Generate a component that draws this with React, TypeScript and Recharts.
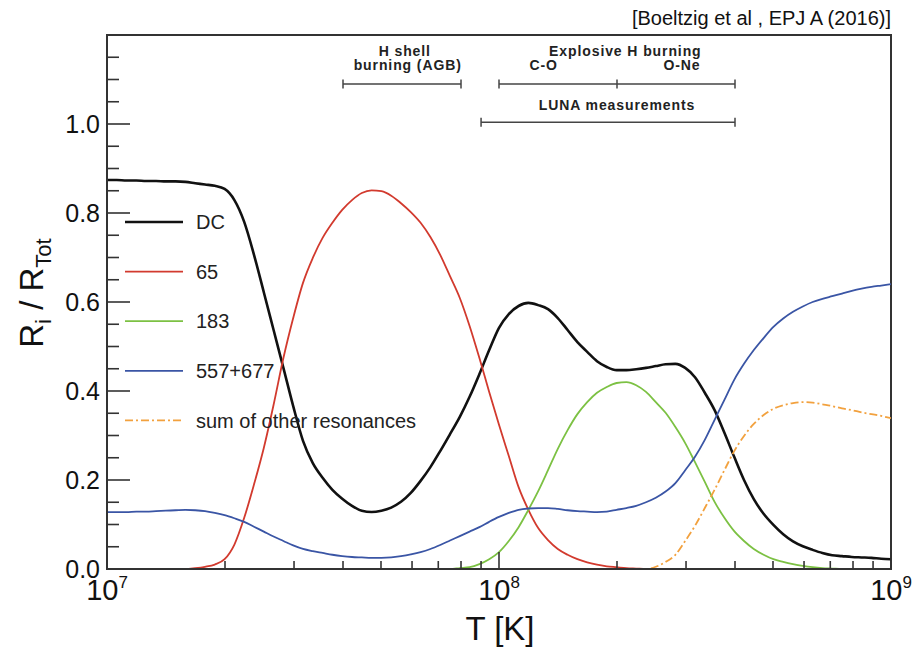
import React from 'react';
import { LineChart, Line, XAxis, YAxis, ReferenceLine, ReferenceArea, Legend } from 'recharts';

// log10 of temperature T [K], step 0.025
const logT = [
  7.0, 7.025, 7.05, 7.075, 7.1, 7.125, 7.15, 7.175, 7.2, 7.225,
  7.25, 7.275, 7.3, 7.325, 7.35, 7.375, 7.4, 7.425, 7.45, 7.475,
  7.5, 7.525, 7.55, 7.575, 7.6, 7.625, 7.65, 7.675, 7.7, 7.725,
  7.75, 7.775, 7.8, 7.825, 7.85, 7.875, 7.9, 7.925, 7.95, 7.975,
  8.0, 8.025, 8.05, 8.075, 8.1, 8.125, 8.15, 8.175, 8.2, 8.225,
  8.25, 8.275, 8.3, 8.325, 8.35, 8.375, 8.4, 8.425, 8.45, 8.475,
  8.5, 8.525, 8.55, 8.575, 8.6, 8.625, 8.65, 8.675, 8.7, 8.725,
  8.75, 8.775, 8.8, 8.825, 8.85, 8.875, 8.9, 8.925, 8.95, 8.975, 9.0,
];

const dcRatio = [
  0.874, 0.874, 0.873, 0.873, 0.872, 0.872, 0.871, 0.871, 0.870, 0.867,
  0.864, 0.861, 0.854, 0.829, 0.780, 0.706, 0.622, 0.537, 0.452, 0.366,
  0.288, 0.238, 0.205, 0.178, 0.158, 0.142, 0.131, 0.128, 0.131, 0.138,
  0.151, 0.171, 0.198, 0.229, 0.265, 0.303, 0.342, 0.387, 0.438, 0.492,
  0.542, 0.573, 0.591, 0.598, 0.593, 0.584, 0.564, 0.537, 0.510, 0.488,
  0.467, 0.454, 0.447, 0.447, 0.449, 0.452, 0.456, 0.460, 0.461, 0.452,
  0.431, 0.396, 0.357, 0.306, 0.252, 0.200, 0.157, 0.124, 0.099, 0.078,
  0.062, 0.051, 0.043, 0.036, 0.031, 0.029, 0.027, 0.026, 0.025, 0.023, 0.022,
];

const r65Ratio = [
  0, 0, 0, 0, 0, 0, 0, 0, 0, 0.002,
  0.005, 0.010, 0.022, 0.055, 0.115, 0.190, 0.272, 0.369, 0.474, 0.564,
  0.643, 0.699, 0.744, 0.778, 0.807, 0.829, 0.845, 0.851, 0.849, 0.839,
  0.822, 0.802, 0.778, 0.746, 0.706, 0.658, 0.609, 0.546, 0.474, 0.398,
  0.324, 0.254, 0.184, 0.133, 0.092, 0.065, 0.045, 0.032, 0.022, 0.015,
  0.010, 0.006, 0.004, 0.002, 0.001, 0, 0, 0, 0, 0,
  0, 0, 0, 0, 0, 0, 0, 0, 0, 0,
  0, 0, 0, 0, 0, 0, 0, 0, 0, 0, 0,
];

const r183Ratio = [
  0, 0, 0, 0, 0, 0, 0, 0, 0, 0,
  0, 0, 0, 0, 0, 0, 0, 0, 0, 0,
  0, 0, 0, 0, 0, 0, 0, 0, 0, 0,
  0, 0, 0, 0, 0, 0, 0.002, 0.004, 0.011, 0.022,
  0.038, 0.063, 0.094, 0.133, 0.175, 0.222, 0.270, 0.312, 0.348, 0.375,
  0.396, 0.409, 0.418, 0.420, 0.413, 0.398, 0.375, 0.351, 0.319, 0.283,
  0.240, 0.196, 0.151, 0.115, 0.085, 0.063, 0.045, 0.032, 0.022, 0.016,
  0.011, 0.007, 0.004, 0.002, 0.001, 0, 0, 0, 0, 0, 0,
];

const r557Ratio = [
  0.128, 0.128, 0.128, 0.129, 0.129, 0.130, 0.131, 0.132, 0.133, 0.132,
  0.130, 0.126, 0.121, 0.114, 0.106, 0.095, 0.084, 0.073, 0.063, 0.053,
  0.045, 0.040, 0.036, 0.032, 0.029, 0.027, 0.026, 0.025, 0.025, 0.026,
  0.029, 0.033, 0.038, 0.045, 0.054, 0.064, 0.074, 0.084, 0.094, 0.106,
  0.117, 0.126, 0.133, 0.136, 0.137, 0.137, 0.135, 0.132, 0.130, 0.129,
  0.128, 0.129, 0.133, 0.137, 0.142, 0.150, 0.160, 0.174, 0.193, 0.222,
  0.252, 0.290, 0.335, 0.380, 0.425, 0.461, 0.492, 0.519, 0.544, 0.563,
  0.578, 0.590, 0.600, 0.607, 0.613, 0.619, 0.625, 0.630, 0.634, 0.637, 0.640,
];

const otherRatio = [
  0, 0, 0, 0, 0, 0, 0, 0, 0, 0,
  0, 0, 0, 0, 0, 0, 0, 0, 0, 0,
  0, 0, 0, 0, 0, 0, 0, 0, 0, 0,
  0, 0, 0, 0, 0, 0, 0, 0, 0, 0,
  0, 0, 0, 0, 0, 0, 0, 0, 0, 0,
  0, 0, 0, 0, 0, 0, 0.005, 0.016, 0.032, 0.063,
  0.097, 0.137, 0.178, 0.222, 0.265, 0.299, 0.326, 0.346, 0.360, 0.368,
  0.373, 0.375, 0.374, 0.370, 0.366, 0.361, 0.357, 0.352, 0.348, 0.344, 0.339,
];

const seriesNames = ['DC', '65', '183', '557+677', 'sum of other resonances'];

const xMajorExponents = [7, 8, 9];
const xMinorMultipliers = [2, 3, 4, 5, 6, 7, 8, 9];
const yTicks = [0, 0.05, 0.1, 0.15, 0.2, 0.25, 0.3, 0.35, 0.4, 0.45, 0.5, 0.55, 0.6, 0.65, 0.7, 0.75, 0.8, 0.85, 0.9, 0.95, 1.0, 1.05, 1.1, 1.15];

const annotations = [
  {
    fromT: 4e7, toT: 8e7, level: 1.09, innerT: [] as number[],
    labels: [
      { text: 'H shell', atT: 5.75e7, dy: -28 },
      { text: 'burning (AGB)', atT: 5.85e7, dy: -14 },
    ],
  },
  {
    fromT: 1e8, toT: 4e8, level: 1.09, innerT: [2e8],
    labels: [
      { text: 'Explosive H burning', atT: 2.1e8, dy: -28 },
      { text: 'C-O', atT: 1.3e8, dy: -14 },
      { text: 'O-Ne', atT: 2.93e8, dy: -14 },
    ],
  },
  {
    fromT: 9e7, toT: 4e8, level: 1.004, innerT: [] as number[],
    labels: [{ text: 'LUNA measurements', atT: 2e8, dy: -12 }],
  },
];

const xTicks: number[] = [];
xMajorExponents.forEach((e, i) => {
  xTicks.push(e);
  if (i < xMajorExponents.length - 1) {
    xMinorMultipliers.forEach((m) => xTicks.push(e + Math.log10(m)));
  }
});

const data = logT.map((t, i) => ({
  logT: t,
  dc: dcRatio[i],
  r65: r65Ratio[i],
  r183: r183Ratio[i],
  r557: r557Ratio[i],
  other: otherRatio[i],
}));

const series = [
  { key: 'dc', name: seriesNames[0], color: '#111111', width: 2.6, dash: undefined as string | undefined },
  { key: 'r65', name: seriesNames[1], color: '#d23a2e', width: 1.8, dash: undefined },
  { key: 'r183', name: seriesNames[2], color: '#7cc143', width: 1.8, dash: undefined },
  { key: 'r557', name: seriesNames[3], color: '#3a55a5', width: 1.8, dash: undefined },
  { key: 'other', name: seriesNames[4], color: '#f2a13e', width: 1.8, dash: '8 3 2 3' },
];

const FONT = '"Liberation Sans", Arial, Helvetica, sans-serif';
const AXIS = '#333333';

const XTick = (props: any) => {
  const { x, y, payload } = props;
  const v = payload.value;
  const major = Math.abs(v - Math.round(v)) < 1e-6;
  return (
    <g>
      <line x1={x} x2={x} y1={y} y2={y - (major ? 17 : 8)} stroke={AXIS} strokeWidth={1.6} />
      {major && (
        <text x={x} y={y + 31} textAnchor="middle" fontFamily={FONT} fontSize={29} fill="#111">
          10<tspan dy={-12} fontSize={17}>{Math.round(v)}</tspan>
        </text>
      )}
    </g>
  );
};

const YTick = (props: any) => {
  const { x, y, payload } = props;
  const v = payload.value;
  const major = Math.abs(v * 5 - Math.round(v * 5)) < 1e-6;
  return (
    <g>
      <line x1={x} x2={x + (major ? 23 : 12)} y1={y} y2={y} stroke={AXIS} strokeWidth={1.6} />
      {major && (
        <text x={x - 7} y={y} dy="0.36em" textAnchor="end" fontFamily={FONT} fontSize={25} fill="#111">
          {v.toFixed(1)}
        </text>
      )}
    </g>
  );
};

const makeBarShape = (ann: (typeof annotations)[number]) => (props: any) => {
  const { x1, y1, x2 } = props;
  const l0 = Math.log10(ann.fromT);
  const l1 = Math.log10(ann.toT);
  const px = (t: number) => x1 + ((Math.log10(t) - l0) / (l1 - l0)) * (x2 - x1);
  const capXs = [x1, x2, ...ann.innerT.map(px)];
  return (
    <g>
      <line x1={x1} x2={x2} y1={y1} y2={y1} stroke="#444" strokeWidth={1.5} />
      {capXs.map((cx, i) => (
        <line key={i} x1={cx} x2={cx} y1={y1 - 4.5} y2={y1 + 4.5} stroke="#444" strokeWidth={1.5} />
      ))}
      {ann.labels.map((lb, i) => (
        <text key={'t' + i} x={px(lb.atT)} y={y1 + lb.dy} textAnchor="middle" fontFamily={FONT}
          fontWeight="bold" fontSize={14} letterSpacing={0.9} fill="#222">
          {lb.text}
        </text>
      ))}
    </g>
  );
};

const LegendContent = () => (
  <svg width={922} height={648} style={{ position: 'absolute', left: 0, top: 0 }}>
    {series.map((s, i) => {
      const y = 222 + i * 49.6;
      return (
        <g key={s.key}>
          <line x1={125} x2={183} y1={y} y2={y} stroke={s.color} strokeWidth={s.width} strokeDasharray={s.dash} />
          <text x={196} y={y} dy="0.36em" fontFamily={FONT} fontSize={20} fill="#222">{s.name}</text>
        </g>
      );
    })}
  </svg>
);

export default function App() {
  return (
    <div style={{ position: 'absolute', left: 0, top: 0, width: 922, height: 648, background: '#fff' }}>
      <LineChart width={922} height={648} data={data} margin={{ top: 35, right: 31, bottom: 0, left: 0 }}>
        <XAxis
          dataKey="logT" type="number" domain={[7, 9]} ticks={xTicks} interval={0}
          allowDataOverflow height={79} tickSize={0} tickMargin={0} tickLine={false}
          tick={<XTick />} axisLine={{ stroke: AXIS, strokeWidth: 2 }}
        />
        <YAxis
          type="number" domain={[0, 1.2]} ticks={yTicks} interval={0} allowDataOverflow
          width={107} tickSize={0} tickMargin={0} tickLine={false}
          tick={<YTick />} axisLine={{ stroke: AXIS, strokeWidth: 2 }}
        />
        <ReferenceArea x1={7} x2={9} y1={0} y2={1.2} fill="none" fillOpacity={0} stroke={AXIS} strokeWidth={2} />
        {annotations.map((ann, i) => (
          <ReferenceLine
            key={'ann' + i}
            segment={[{ x: Math.log10(ann.fromT), y: ann.level }, { x: Math.log10(ann.toT), y: ann.level }]}
            shape={makeBarShape(ann)}
          />
        ))}
        {series.map((s) => (
          <Line
            key={s.key} dataKey={s.key} name={s.name} type="monotone" stroke={s.color}
            strokeWidth={s.width} strokeDasharray={s.dash} dot={false} activeDot={false}
            isAnimationActive={false}
          />
        ))}
        <Legend
          layout="vertical" align="center" verticalAlign="middle"
          content={<LegendContent />}
          wrapperStyle={{ position: 'absolute', left: 0, top: 0, width: 922, height: 648, pointerEvents: 'none' }}
        />
      </LineChart>
      <svg width={922} height={648} style={{ position: 'absolute', left: 0, top: 0, pointerEvents: 'none' }}>
        <text x={891} y={25} textAnchor="end" fontFamily={FONT} fontSize={20} fill="#111">
          [Boeltzig et al , EPJ A (2016)]
        </text>
        <text x={500} y={640} textAnchor="middle" fontFamily={FONT} fontSize={33} fill="#111">T [K]</text>
        <text transform="translate(43,293) rotate(-90)" textAnchor="middle" fontFamily={FONT} fontSize={33} fill="#111">
          R<tspan dy={8} fontSize={22}>i</tspan><tspan dy={-8}>{' / R'}</tspan><tspan dy={8} fontSize={22}>Tot</tspan>
        </text>
      </svg>
    </div>
  );
}
